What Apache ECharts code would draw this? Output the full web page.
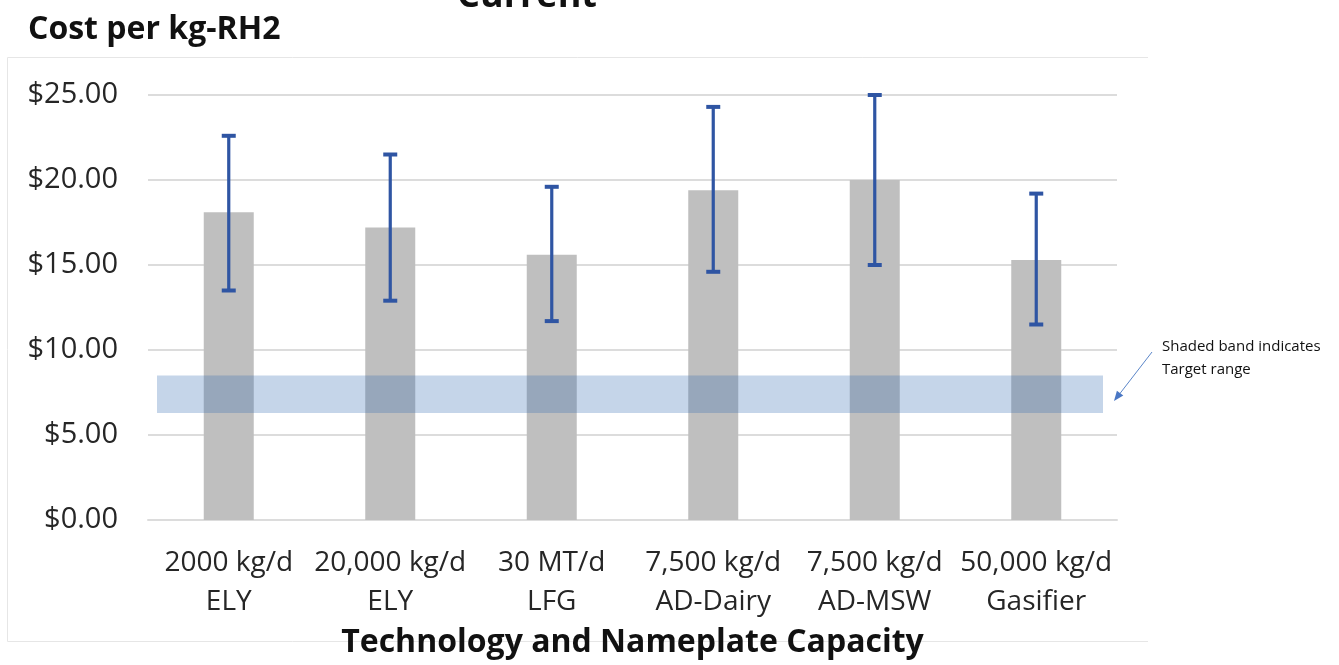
<!DOCTYPE html>
<html>
<head>
<meta charset="utf-8">
<script src="https://cdn.jsdelivr.net/npm/echarts@6/dist/echarts.min.js"></script>
<style>
  html, body { margin: 0; padding: 0; background: #fff; }
  #chart { width: 1339px; height: 665px; }
</style>
</head>
<body>
<div id="chart"></div>
<script>
// categories (two-line labels)
var categories = ['2000 kg/d\nELY', '20,000 kg/d\nELY', '30 MT/d\nLFG', '7,500 kg/d\nAD-Dairy', '7,500 kg/d\nAD-MSW', '50,000 kg/d\nGasifier'];
var costValues = [18.1, 17.2, 15.6, 19.4, 20.0, 15.3];
// error bar ends
var errLow  = [13.5, 12.9, 11.7, 14.6, 15.0, 11.5];
var errHigh = [22.6, 21.5, 19.6, 24.3, 25.0, 19.2];
// target band
var targetLow = 6.3;
var targetHigh = 8.5;
var yTicks = [0, 5, 10, 15, 20, 25];

var errColor = '#2f55a3';
var textColor = '#262626';
var font = '"Open Sans", "Noto Sans", sans-serif';

var errData = categories.map(function (c, i) { return [i, errLow[i], errHigh[i]]; });

// 误差线
function renderError(params, api) {
  var x = api.value(0);
  var lo = api.coord([x, api.value(1)]);
  var hi = api.coord([x, api.value(2)]);
  var cap = 7;
  var st = { stroke: errColor, lineWidth: 3.2 };
  var capSt = { stroke: errColor, lineWidth: 4 };
  return {
    type: 'group',
    children: [
      { type: 'line', shape: { x1: hi[0], y1: hi[1], x2: lo[0], y2: lo[1] }, style: st },
      { type: 'line', shape: { x1: hi[0] - cap, y1: hi[1], x2: hi[0] + cap, y2: hi[1] }, style: capSt },
      { type: 'line', shape: { x1: lo[0] - cap, y1: lo[1], x2: lo[0] + cap, y2: lo[1] }, style: capSt }
    ]
  };
}

// 目标区间阴影
function renderBand(params, api) {
  var cs = params.coordSys;
  var top = api.coord([0, api.value(2)])[1];
  var bot = api.coord([0, api.value(1)])[1];
  return {
    type: 'rect',
    shape: { x: cs.x + 9, y: top, width: cs.width - 23, height: bot - top },
    style: { fill: 'rgba(48,105,176,0.28)' }
  };
}

var chart = echarts.init(document.getElementById('chart'));
var option = {
  animation: false,
  backgroundColor: '#fff',
  grid: { left: 148, right: 222, top: 95, bottom: 145 },
  xAxis: {
    type: 'category',
    data: categories,
    axisLine: { lineStyle: { color: '#dcdcdc', width: 2 } },
    axisTick: { show: false },
    axisLabel: {
      color: textColor, fontFamily: font, fontSize: 28, lineHeight: 39, margin: 24, interval: 0
    },
    name: 'Technology and Nameplate Capacity',
    nameLocation: 'middle',
    nameGap: 107,
    nameTextStyle: { color: '#111', fontFamily: font, fontSize: 32, fontWeight: 'bold' }
  },
  yAxis: {
    type: 'value',
    min: 0,
    max: 25,
    interval: 5,
    axisLine: { show: false },
    axisTick: { show: false },
    splitLine: { lineStyle: { color: '#dcdcdc', width: 2 } },
    axisLabel: {
      color: textColor, fontFamily: font, fontSize: 29, margin: 30,
      formatter: function (v) { return yTicks.indexOf(v) >= 0 ? '$' + v.toFixed(2) : ''; }
    }
  },
  series: [
    {
      type: 'bar',
      data: costValues,
      barWidth: 50,
      itemStyle: { color: '#bfbfbf' },
      z: 2
    },
    {
      type: 'custom',
      data: [[0, targetLow, targetHigh]],
      encode: { x: 0, y: [1, 2] },
      renderItem: renderBand,
      silent: true,
      z: 3
    },
    {
      type: 'custom',
      data: errData,
      encode: { x: 0, y: [1, 2] },
      renderItem: renderError,
      z: 4
    }
  ],
  graphic: [
    { type: 'polyline', shape: { points: [[1148, 57.5], [7.5, 57.5], [7.5, 641.5], [1148, 641.5]] },
      style: { stroke: '#e6e6e6', lineWidth: 1, fill: null }, silent: true },
    { type: 'text', x: 527, y: -3, style: { text: 'Current', fill: '#111', font: 'bold 36px ' + font, align: 'center', verticalAlign: 'middle' } },
    { type: 'text', x: 28, y: 30, style: { text: 'Cost per kg-RH2', fill: '#111', font: 'bold 32px ' + font, verticalAlign: 'middle' } },
    { type: 'text', x: 1162, y: 347, style: { text: 'Shaded band indicates', fill: '#111', font: '15px ' + font, verticalAlign: 'middle' } },
    { type: 'text', x: 1162, y: 370, style: { text: 'Target range', fill: '#111', font: '15px ' + font, verticalAlign: 'middle' } },
    { type: 'line', shape: { x1: 1152, y1: 352, x2: 1118, y2: 396 }, style: { stroke: '#5b86c9', lineWidth: 1 } },
    { type: 'polygon', shape: { points: [[1114, 401], [1123.3, 395.5], [1116.9, 390.7]] }, style: { fill: '#4a77c4' } }
  ]
};
chart.setOption(option);
</script>
</body>
</html>
